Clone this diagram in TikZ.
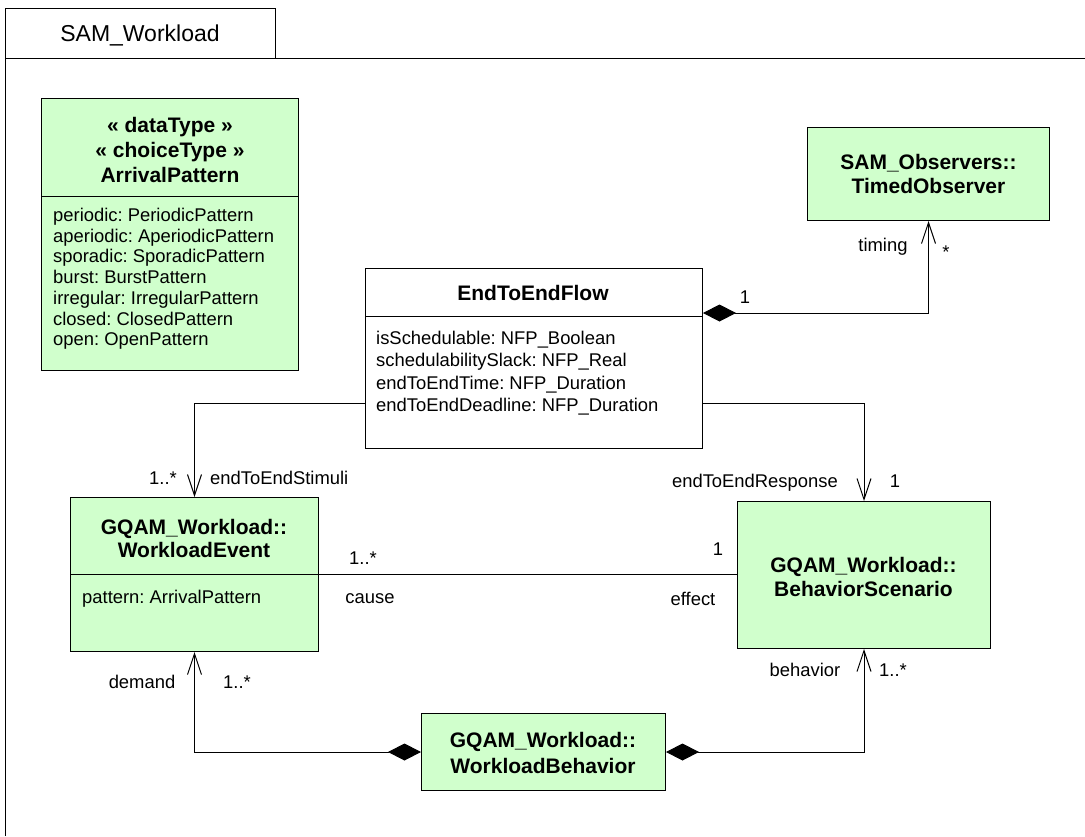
\documentclass[tikz,border=0pt]{standalone}
\usepackage{fontspec}
\setmainfont{Liberation Sans}
\usepackage{xcolor}
\usepackage{tikz}
\usetikzlibrary{arrows.meta,calc,positioning}
\frenchspacing
\definecolor{verdeclase}{RGB}{208,255,204}
\tikzset{
  clase/.style={draw=black,fill=verdeclase,line width=1pt,anchor=north west,inner sep=0pt},
  blanca/.style={clase,fill=white},
  titulo/.style={font=\fontsize{21}{24}\selectfont\bfseries,align=center,inner sep=0pt},
  attr/.style={font=\fontsize{18.4}{20.7}\selectfont,align=left,anchor=north west,inner sep=0pt},
  etq/.style={font=\fontsize{18.4}{20.7}\selectfont,inner sep=0pt,anchor=base},
  asoc/.style={line width=1pt,-{Straight Barb[length=21pt,width=14pt]}},
  compo/.style={line width=1pt,{Diamond[length=33pt,width=17pt]}-{Straight Barb[length=21pt,width=14pt]}}
}
\begin{document}
\begin{tikzpicture}[x=1pt,y=-1pt]
\useasboundingbox (0,0) rectangle (1085,836);
\draw[line width=1pt] (5,836) -- (5,8) -- (275,8) -- (275,58);
\draw[line width=1pt] (5,58) -- (1085,58);
\node[font=\fontsize{23}{26}\selectfont,inner sep=0pt,anchor=base] (paquete) at (140,41) {SAM\_Workload};
% clases
\node[clase,minimum width=257pt,minimum height=272pt] (ap) at (41,98) {};
\node[titulo,align=center,font=\fontsize{21}{25}\selectfont\bfseries] (aptit) at (170,150) {« dataType »\\« choiceType »\\ArrivalPattern};
\draw[line width=1pt] (ap.west |- 0,196) -- (ap.east |- 0,196);
\node[attr] (apattr) at (53,208) {periodic: PeriodicPattern\\aperiodic: AperiodicPattern\\sporadic: SporadicPattern\\burst: BurstPattern\\irregular: IrregularPattern\\closed: ClosedPattern\\open: OpenPattern};
\node[clase,minimum width=242pt,minimum height=93pt] (to) at (807,127) {};
\node[titulo] (totit) at (to.center) {SAM\_Observers::\\TimedObserver};
\node[blanca,minimum width=337pt,minimum height=180pt] (eef) at (365,268) {};
\node[titulo] (eeftit) at (533,293) {EndToEndFlow};
\draw[line width=1pt] (eef.west |- 0,316) -- (eef.east |- 0,316);
\node[attr,font=\fontsize{18.4}{22.3}\selectfont] (eefattr) at (376,331) {isSchedulable: NFP\_Boolean\\schedulabilitySlack: NFP\_Real\\endToEndTime: NFP\_Duration\\endToEndDeadline: NFP\_Duration};
\node[clase,minimum width=248pt,minimum height=154pt] (we) at (70,497) {};
\node[titulo,font=\fontsize{21}{23}\selectfont\bfseries] (wetit) at (194,538) {GQAM\_Workload::\\WorkloadEvent};
\draw[line width=1pt] (we.west |- 0,574) -- (we.east |- 0,574);
\node[attr] (weattr) at (82,590) {pattern: ArrivalPattern};
\node[clase,minimum width=253pt,minimum height=147pt] (bs) at (737,501) {};
\node[titulo] (bstit) at (863.5,577) {GQAM\_Workload::\\BehaviorScenario};
\node[clase,minimum width=244pt,minimum height=77pt] (wb) at (421,713) {};
\node[titulo,font=\fontsize{21}{26}\selectfont\bfseries] (wbtit) at (543,753) {GQAM\_Workload::\\WorkloadBehavior};
% conectores
\coordinate (eefcomp) at ($(eef.north east)+(0,45)$);
\coordinate (eefizq) at ($(eef.north west)+(0,135)$);
\coordinate (eefder) at ($(eef.north east)+(0,135)$);
\draw[compo] (eefcomp) -| (to.south);
\draw[asoc] (eefizq) -| (we.north);
\draw[asoc] (eefder) -| (bs.north);
\draw[line width=1pt] (we.east) -- (we.east -| bs.west);
\draw[compo] (wb.west) -| (we.south);
\draw[compo] (wb.east) -| (bs.south);
% etiquetas
\node[etq] (m1) at (745,303) {1};
\node[etq] (rtiming) at (883,251) {timing};
\node[etq] (m2) at (946,258) {*};
\node[etq] (m3) at (163,484) {1..*};
\node[etq,anchor=base west] (rstim) at (210,484) {endToEndStimuli};
\node[etq,anchor=base east] (rresp) at (838,487) {endToEndResponse};
\node[etq] (m4) at (895,487) {1};
\node[etq] (m5) at (363,564) {1..*};
\node[etq] (rcause) at (370,603) {cause};
\node[etq] (m6) at (718,555) {1};
\node[etq] (reffect) at (693,605) {effect};
\node[etq] (rdemand) at (142,688) {demand};
\node[etq] (m7) at (237,688) {1..*};
\node[etq] (rbehav) at (805,676) {behavior};
\node[etq] (m8) at (893,676) {1..*};
\end{tikzpicture}
\end{document}
